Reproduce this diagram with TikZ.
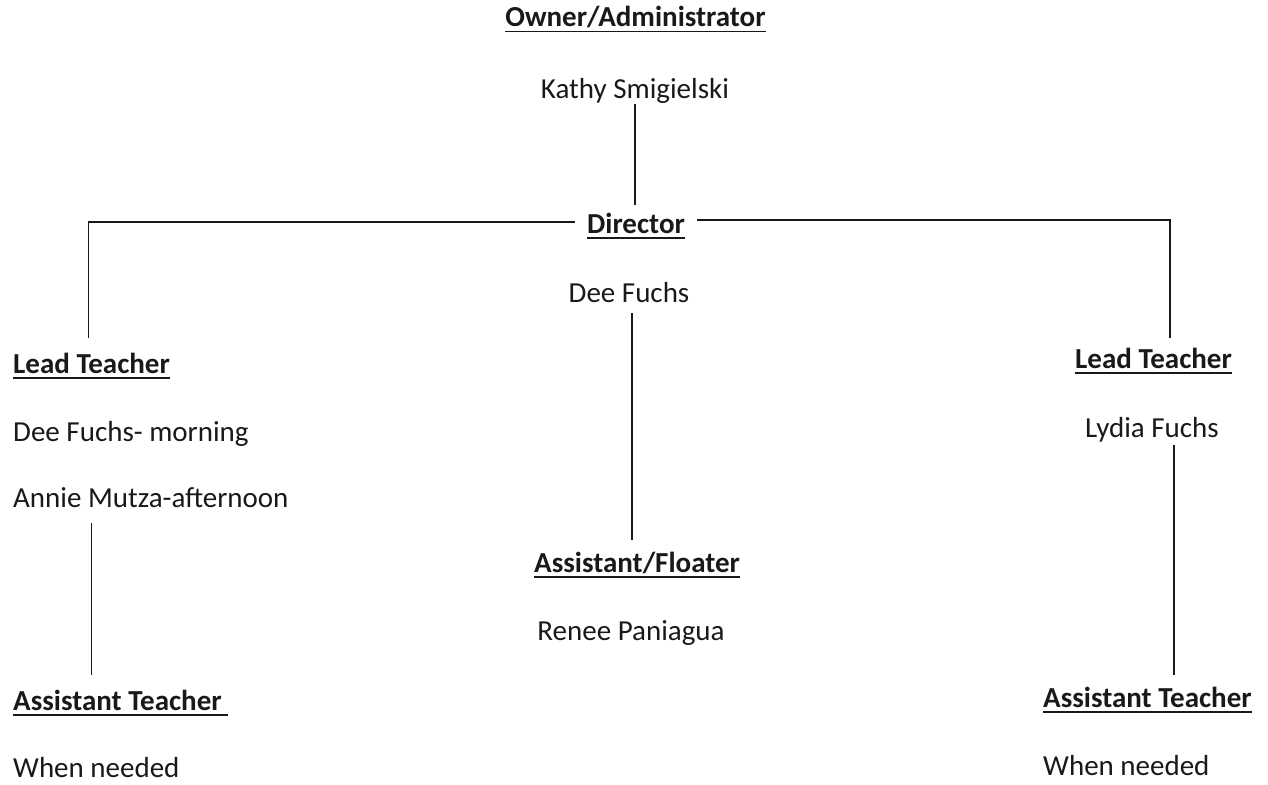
\documentclass[tikz,border=0pt]{standalone}
\usepackage{fontspec}
\setmainfont{Carlito}
\newcommand\ulbox[1]{\setbox0\hbox{#1}\rlap{\rule[-5.5pt]{\wd0}{1.5pt}}\box0}
\tikzset{
  txt/.style={inner sep=0pt, font=\fontsize{29}{34}\selectfont, text=black!90},
  head/.style={txt, font=\fontsize{29}{34}\selectfont\bfseries},
  link/.style={line width=1.9pt, draw=black!90}
}
\begin{document}
\begin{tikzpicture}[x=1pt,y=1pt]
\useasboundingbox (0,0) rectangle (1268,-784);
% top
\node[head, anchor=base] (owner) at (635.5,-27) {\ulbox{Owner/Administrator}};
\node[txt, anchor=base] (kathy) at (635,-98) {Kathy Smigielski};
\node[head, anchor=base] (director) at (636,-233) {\ulbox{Director}};
\node[txt, anchor=base] (dee) at (629,-302) {Dee Fuchs};
% centre column
\node[head, anchor=base] (floater) at (637,-572) {\ulbox{Assistant/Floater}};
\node[txt, anchor=base] (renee) at (631,-640) {Renee Paniagua};
% left column
\node[head, anchor=base west] (lead1) at (13,-373) {\ulbox{Lead Teacher}};
\node[txt, anchor=base west] (deem) at (13,-441) {Dee Fuchs- morning};
\node[txt, anchor=base west] (annie) at (13,-507) {Annie Mutza-afternoon};
\node[head, anchor=base west] (asst1) at (13,-710) {\ulbox{Assistant Teacher\ }};
\node[txt, anchor=base west] (when1) at (13,-777) {When needed};
% right column
\node[head, anchor=base west] (lead2) at (1075,-368) {\ulbox{Lead Teacher}};
\node[txt, anchor=base west] (lydia) at (1085,-437) {Lydia Fuchs};
\node[head, anchor=base west] (asst2) at (1043,-707) {\ulbox{Assistant Teacher}};
\node[txt, anchor=base west] (when2) at (1043,-775) {When needed};
% connectors
\draw[link] ([yshift=-1pt]kathy.south) -- ([yshift=7pt]kathy.south |- director.north);
\draw[link] ([xshift=-12pt,yshift=4pt]director.west) -| ([xshift=-3pt,yshift=14pt]lead1.north);
\draw[link] ([xshift=12pt,yshift=6pt]director.east) -| ([xshift=16pt,yshift=9pt]lead2.north);
\draw[link] ([xshift=3pt,yshift=-11pt]dee.south) -- ([xshift=3pt,yshift=11pt]dee.south |- floater.north);
\draw[link] ([yshift=-16pt]annie.south -| lead1.north) -- ([yshift=14pt]lead1.north |- asst1.north);
\draw[link] ([xshift=22pt,yshift=-3pt]lydia.south) -- ([xshift=22pt,yshift=11pt]lydia.south |- asst2.north);
\end{tikzpicture}
\end{document}
